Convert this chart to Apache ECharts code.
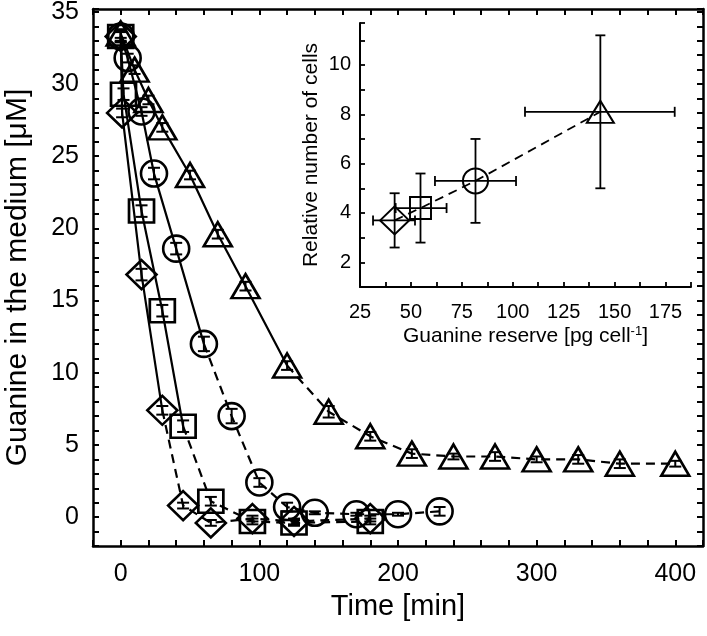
<!DOCTYPE html>
<html><head><meta charset="utf-8">
<script src="https://cdn.jsdelivr.net/npm/echarts@6/dist/echarts.min.js"></script>
<style>html,body{margin:0;padding:0;background:#fff}#c{width:707px;height:636px}</style>
</head><body><div id="c"></div>
<script>
// ---- main chart data: time [min] vs guanine [uM] ----
const triT = [0, 10, 20, 30, 50, 70, 90, 120, 150, 180, 210, 240, 270, 300, 330, 360, 400];
const triV = [33.5, 31.0, 28.9, 27.0, 23.7, 19.6, 16.0, 10.5, 7.3, 5.6, 4.4, 4.2, 4.2, 4.0, 4.0, 3.7, 3.7];
const triE = [0.3, 0.3, 0.3, 0.3, 0.3, 0.3, 0.3, 0.3, 0.4, 0.3, 0.3, 0.2, 0.3, 0.2, 0.3, 0.3, 0.2];
const triSolidEnd = 7;

const cirT = [0, 5, 15, 24, 40, 60, 80, 100, 120, 140, 170, 200, 230];
const cirV = [33.3, 31.8, 28.1, 23.8, 18.6, 12.0, 7.0, 2.4, 0.7, 0.3, 0.2, 0.2, 0.4];
const cirE = [0.3, 0.3, 0.3, 0.4, 0.4, 0.5, 0.5, 0.3, 0.3, 0.1, 0.1, 0.1, 0.3];
const cirSolidEnd = 5;

const sqrT = [0, 2, 15, 30, 45, 65, 95, 125, 180];
const sqrV = [33.3, 29.3, 21.2, 14.3, 6.3, 1.1, -0.3, -0.4, -0.3];
const sqrE = [0.4, 0.4, 0.4, 0.4, 0.4, 0.3, 0.2, 0.2, 0.2];
const sqrSolidEnd = 4;

const diaT = [0, 1, 15, 30, 45, 65, 95, 125, 180];
const diaV = [33.3, 28.0, 16.8, 7.4, 0.8, -0.4, -0.1, -0.3, -0.1];
const diaE = [0.4, 0.3, 0.4, 0.3, 0.2, 0.2, 0.2, 0.2, 0.2];
const diaSolidEnd = 3;

// ---- inset data: guanine reserve [pg/cell] vs relative number of cells ----
const inSymbols = ['diamond', 'rect', 'circle', 'triangle'];
const inX   = [42, 54.7, 81.7, 143];
const inXlo = [31.4, 42.5, 61.8, 106];
const inXhi = [52, 67.5, 101.6, 179.5];
const inY   = [3.7, 4.2, 5.3, 8.1];
const inYlo = [2.6, 2.8, 3.6, 5.0];
const inYhi = [4.8, 5.6, 7.0, 11.2];

const FONT = "'Liberation Sans', Arial, sans-serif";
const BLACK = '#000';

function pairs(xs, ys, a, b) {
  const out = [];
  for (let i = a; i <= b; i++) out.push([xs[i], ys[i]]);
  return out;
}

function group(xs, ys, es, solidEnd, symbol, size) {
  const n = xs.length - 1;
  return [
    { type: 'line', xAxisIndex: 0, yAxisIndex: 0, data: pairs(xs, ys, 0, solidEnd),
      showSymbol: false, silent: true, z: 2,
      lineStyle: { color: BLACK, width: 2.2, type: 'solid', opacity: 1 } },
    { type: 'line', xAxisIndex: 0, yAxisIndex: 0, data: pairs(xs, ys, solidEnd, n),
      showSymbol: false, silent: true, z: 2,
      lineStyle: { color: BLACK, width: 2.2, type: [9, 6], opacity: 1 } },
    { type: 'custom', xAxisIndex: 0, yAxisIndex: 0, z: 3, silent: true,
      data: xs.map((x, i) => [x, ys[i] - es[i], ys[i] + es[i]]),
      encode: { x: 0, y: [1, 2] },
      renderItem: (p, api) => {
        const x = api.value(0);
        const lo = api.coord([x, api.value(1)]);
        const hi = api.coord([x, api.value(2)]);
        const st = { stroke: BLACK, lineWidth: 2 };
        const c = 6;
        return { type: 'group', children: [
          { type: 'line', shape: { x1: lo[0], y1: lo[1], x2: hi[0], y2: hi[1] }, style: st },
          { type: 'line', shape: { x1: lo[0] - c, y1: lo[1], x2: lo[0] + c, y2: lo[1] }, style: st },
          { type: 'line', shape: { x1: hi[0] - c, y1: hi[1], x2: hi[0] + c, y2: hi[1] }, style: st }
        ] };
      } },
    { type: 'scatter', xAxisIndex: 0, yAxisIndex: 0, data: pairs(xs, ys, 0, n),
      symbol: symbol, symbolSize: size, silent: true, z: 4,
      itemStyle: { color: 'rgba(255,255,255,0)', borderColor: BLACK, borderWidth: 2.6, opacity: 1 } }
  ];
}

const mainAxisLine = { show: true, onZero: false, lineStyle: { color: BLACK, width: 2.5 } };
const mainTick = { show: true, inside: true, length: 6, lineStyle: { color: BLACK, width: 2 } };

const series = [].concat(
  group(triT, triV, triE, triSolidEnd, 'triangle', [28, 24]),
  group(cirT, cirV, cirE, cirSolidEnd, 'circle', 26),
  group(sqrT, sqrV, sqrE, sqrSolidEnd, 'rect', [25, 23]),
  group(diaT, diaV, diaE, diaSolidEnd, 'diamond', [30, 29])
);

// inset line
series.push({ type: 'line', xAxisIndex: 2, yAxisIndex: 2, z: 6,
  data: inX.map((x, i) => [x, inY[i]]), showSymbol: false, silent: true,
  lineStyle: { color: BLACK, width: 1.8, type: [9, 6] } });
// inset error bars
series.push({ type: 'custom', xAxisIndex: 2, yAxisIndex: 2, z: 7, silent: true,
  data: inX.map((x, i) => [x, inY[i], inXlo[i], inXhi[i], inYlo[i], inYhi[i]]),
  encode: { x: [0, 2, 3], y: [1, 4, 5] },
  renderItem: (p, api) => {
    const x = api.value(0), y = api.value(1);
    const l = api.coord([api.value(2), y]), r = api.coord([api.value(3), y]);
    const b = api.coord([x, api.value(4)]), t = api.coord([x, api.value(5)]);
    const st = { stroke: BLACK, lineWidth: 1.8 };
    const c = 5;
    return { type: 'group', children: [
      { type: 'line', shape: { x1: l[0], y1: l[1], x2: r[0], y2: r[1] }, style: st },
      { type: 'line', shape: { x1: l[0], y1: l[1] - c, x2: l[0], y2: l[1] + c }, style: st },
      { type: 'line', shape: { x1: r[0], y1: r[1] - c, x2: r[0], y2: r[1] + c }, style: st },
      { type: 'line', shape: { x1: b[0], y1: b[1], x2: t[0], y2: t[1] }, style: st },
      { type: 'line', shape: { x1: b[0] - c, y1: b[1], x2: b[0] + c, y2: b[1] }, style: st },
      { type: 'line', shape: { x1: t[0] - c, y1: t[1], x2: t[0] + c, y2: t[1] }, style: st }
    ] };
  } });
// inset markers
const inSizes = [[29, 28], [21, 22], 25, [27, 22]];
inX.forEach((x, i) => {
  series.push({ type: 'scatter', xAxisIndex: 2, yAxisIndex: 2, z: 8, silent: true,
    data: [[x, inY[i]]], symbol: inSymbols[i], symbolSize: inSizes[i],
    itemStyle: { color: 'rgba(255,255,255,0)', borderColor: BLACK, borderWidth: 2, opacity: 1 } });
});

const option = {
  animation: false,
  backgroundColor: '#fff',
  textStyle: { fontFamily: FONT, color: BLACK },
  grid: [
    { left: 93, top: 9, width: 610, height: 537, containLabel: false, outerBoundsMode: 'none' },
    { left: 360, top: 23, width: 331, height: 264, containLabel: false, outerBoundsMode: 'none' }
  ],
  xAxis: [
    { type: 'value', gridIndex: 0, min: -20, max: 420, interval: 20, position: 'bottom',
      axisLine: mainAxisLine, axisTick: mainTick, splitLine: { show: false },
      axisLabel: { margin: 16, fontSize: 25, fontFamily: FONT, color: BLACK,
        formatter: v => (Math.abs(v % 100) < 1e-6 ? String(v) : '') },
      name: 'Time [min]', nameLocation: 'middle', nameGap: 46,
      nameTextStyle: { fontSize: 29, fontFamily: FONT, color: BLACK } },
    { type: 'value', gridIndex: 0, min: -20, max: 420, interval: 20, position: 'top',
      axisLine: mainAxisLine, axisTick: mainTick, splitLine: { show: false },
      axisLabel: { show: false } },
    { type: 'value', gridIndex: 1, min: 25, max: 187.5, interval: 12.5, position: 'bottom',
      axisLine: { show: true, onZero: false, lineStyle: { color: BLACK, width: 2 } },
      axisTick: { show: true, inside: true, length: 5, lineStyle: { color: BLACK, width: 1.8 } },
      splitLine: { show: false },
      axisLabel: { margin: 15, fontSize: 20, fontFamily: FONT, color: BLACK,
        formatter: v => (Math.abs(v % 25) < 1e-6 ? String(v) : '') },
      name: 'Guanine reserve [pg cell{sup|-1}]', nameLocation: 'middle', nameGap: 38,
      nameTextStyle: { fontSize: 21, fontFamily: FONT, color: BLACK,
        rich: { sup: { fontSize: 13, fontFamily: FONT, color: BLACK, verticalAlign: 'top', padding: [0, 0, 10, 0] } } } }
  ],
  yAxis: [
    { type: 'value', gridIndex: 0, min: -2, max: 35.2, interval: 1, position: 'left',
      axisLine: mainAxisLine, axisTick: mainTick, splitLine: { show: false },
      axisLabel: { margin: 14, fontSize: 25, fontFamily: FONT, color: BLACK,
        formatter: v => (Math.abs(v % 5) < 1e-6 ? String(v) : '') },
      name: 'Guanine in the medium [\u03bcM]', nameLocation: 'middle', nameGap: 60, nameRotate: 90,
      nameTextStyle: { fontSize: 30, fontFamily: FONT, color: BLACK } },
    { type: 'value', gridIndex: 0, min: -2, max: 35.2, interval: 1, position: 'right',
      axisLine: mainAxisLine, axisTick: mainTick, splitLine: { show: false },
      axisLabel: { show: false } },
    { type: 'value', gridIndex: 1, min: 1, max: 11.7, interval: 1, position: 'left',
      axisLine: { show: true, onZero: false, lineStyle: { color: BLACK, width: 2 } },
      axisTick: { show: true, inside: true, length: 5, lineStyle: { color: BLACK, width: 1.8 } },
      splitLine: { show: false },
      axisLabel: { margin: 9, fontSize: 20, fontFamily: FONT, color: BLACK,
        formatter: v => (Math.abs(v % 2) < 1e-6 ? String(v) : '') },
      name: 'Relative number of cells', nameLocation: 'middle', nameGap: 38, nameRotate: 90,
      nameTextStyle: { fontSize: 21, fontFamily: FONT, color: BLACK } }
  ],
  series: series
};

const chart = echarts.init(document.getElementById('c'), null, { renderer: 'canvas' });
chart.setOption(option);
</script>
</body></html>
